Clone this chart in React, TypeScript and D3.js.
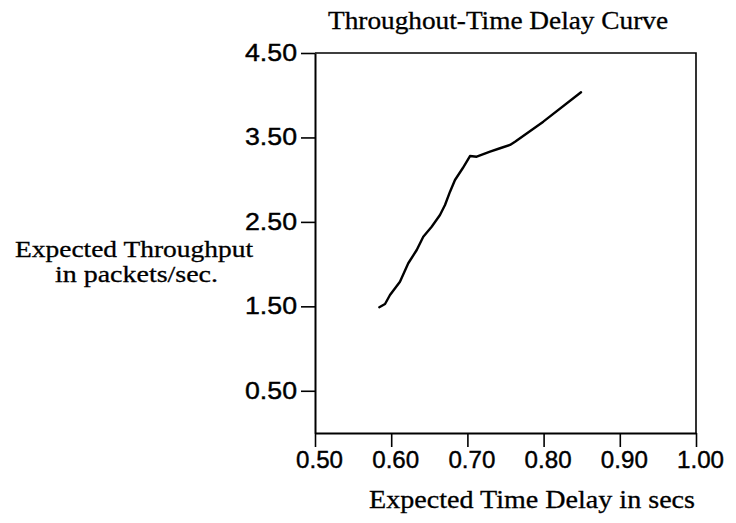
import React, { useEffect, useRef } from "react";
import * as d3 from "d3";

// delay (secs) vs throughput (packets/sec)
const delay = [
  0.5844, 0.5919, 0.5984, 0.6115, 0.6224, 0.6335, 0.6421, 0.6531, 0.664,
  0.6706, 0.6772, 0.6837, 0.6938, 0.7034, 0.7122, 0.7297, 0.7428, 0.7559,
  0.7625, 0.7996, 0.8491,
];
const throughput = [
  1.49, 1.528, 1.634, 1.792, 2.01, 2.167, 2.325, 2.443, 2.582, 2.7, 2.858,
  2.996, 3.135, 3.28, 3.272, 3.331, 3.372, 3.411, 3.45, 3.687, 4.035,
];
const xTicks = [0.5, 0.6, 0.7, 0.8, 0.9, 1.0];
const yTicks = [0.5, 1.5, 2.5, 3.5, 4.5];

const W = 736;
const H = 523;
const serif = "'Liberation Serif', 'Times New Roman', serif";
const sans = "'Liberation Sans', Arial, sans-serif";

const App = () => {
  const svgRef = useRef<SVGSVGElement>(null);

  useEffect(() => {
    const svg = d3.select(svgRef.current);
    svg.selectAll("*").remove();

    const x = d3.scaleLinear().domain([0.5, 1.0]).range([315, 696]);
    const y = d3.scaleLinear().domain([0, 4.5]).range([433, 53]);

    // frame (top and right)
    svg
      .append("path")
      .attr("d", `M${x(0.5)},${y(4.5)}H${x(1.0)}V${y(0)}`)
      .attr("fill", "none")
      .attr("stroke", "#000")
      .attr("stroke-width", 1.6);

    const xAxis = d3
      .axisBottom(x)
      .tickValues(xTicks)
      .tickFormat(d3.format(".2f"))
      .tickSize(14)
      .tickSizeOuter(0)
      .tickPadding(4);
    const gx = svg.append("g").attr("transform", `translate(0,${y(0)})`).call(xAxis);
    gx.select(".domain").attr("stroke-width", 2);
    gx.selectAll(".tick line").attr("stroke-width", 1.6);
    gx.selectAll(".tick text")
      .attr("font-family", sans)
      .attr("font-size", 23)
      .attr("fill", "#000")
      .attr("stroke", "#000")
      .attr("stroke-width", 0.4)
      .attr("dx", 4)
      .attr("dy", "0.72em")
      .attr("textLength", 47)
      .attr("lengthAdjust", "spacingAndGlyphs");

    const yAxis = d3
      .axisLeft(y)
      .tickValues(yTicks)
      .tickFormat(d3.format(".2f"))
      .tickSize(14)
      .tickSizeOuter(0)
      .tickPadding(4);
    const gy = svg.append("g").attr("transform", `translate(${x(0.5)},0)`).call(yAxis);
    gy.select(".domain").attr("stroke-width", 2);
    gy.selectAll(".tick line").attr("stroke-width", 1.6);
    gy.selectAll(".tick text")
      .attr("font-family", sans)
      .attr("font-size", 23)
      .attr("fill", "#000")
      .attr("stroke", "#000")
      .attr("stroke-width", 0.4)
      .attr("textLength", 52)
      .attr("lengthAdjust", "spacingAndGlyphs");

    const line = d3
      .line<number>()
      .x((d, i) => x(delay[i]))
      .y((d) => y(d))
      .curve(d3.curveLinear);

    svg
      .append("path")
      .datum(throughput)
      .attr("d", line)
      .attr("fill", "none")
      .attr("stroke", "#000")
      .attr("stroke-width", 2.4)
      .attr("stroke-linejoin", "round")
      .attr("stroke-linecap", "round");

    const label = (txt: string, cx: number, base: number, len: number, size = 25) =>
      svg
        .append("text")
        .attr("x", cx)
        .attr("y", base)
        .attr("text-anchor", "middle")
        .attr("font-family", serif)
        .attr("font-size", size)
        .attr("fill", "#000")
        .attr("stroke", "#000")
        .attr("stroke-width", 0.3)
        .attr("textLength", len)
        .attr("lengthAdjust", "spacingAndGlyphs")
        .text(txt);

    label("Throughout-Time Delay Curve", 498, 29, 340);
    label("Expected Throughput", 134, 257, 238, 24);
    label("in packets/sec.", 136.5, 282, 163, 24);
    label("Expected Time Delay in secs", 532, 508, 326);
  }, []);

  return (
    <svg
      ref={svgRef}
      width={W}
      height={H}
      style={{ position: "absolute", left: 0, top: 0, background: "#fff" }}
    />
  );
};

export default App;
